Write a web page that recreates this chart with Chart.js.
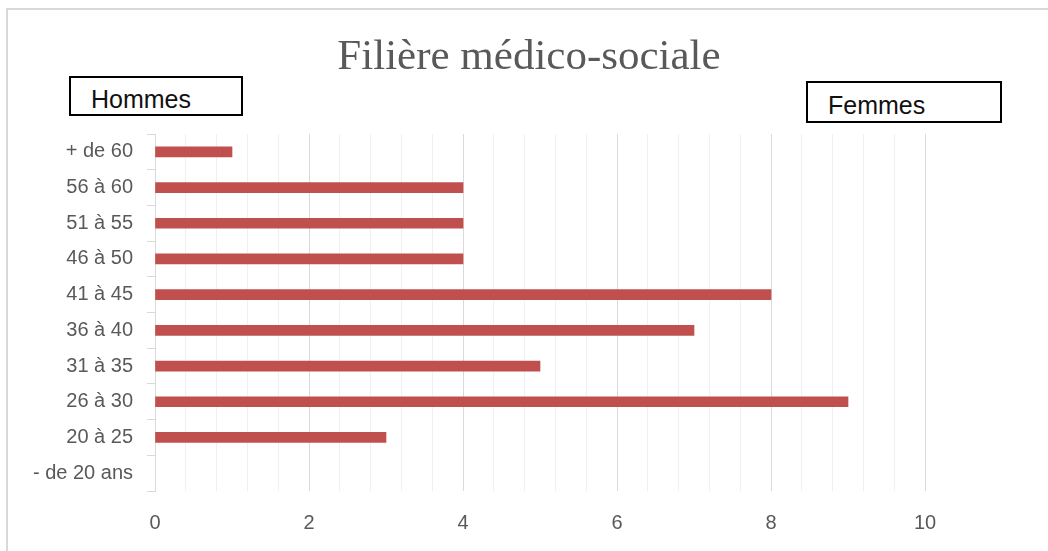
<!DOCTYPE html>
<html>
<head>
<meta charset="utf-8">
<script src="https://cdn.jsdelivr.net/npm/chart.js@4/dist/chart.umd.min.js"></script>
<style>
  html, body { margin: 0; padding: 0; background: #fff; }
  body { width: 1048px; height: 551px; position: relative; overflow: hidden; }
  #frame { position: absolute; left: 6px; top: 8px; width: 1100px; height: 600px;
           border-left: 2px solid #d9d9d9; border-top: 2px solid #d9d9d9; }
  #wrap { position: absolute; left: 0; top: 0; width: 1048px; height: 551px; }
  #title { position: absolute; left: 0; width: 1058px; top: 33px; text-align: center;
           font-family: "Liberation Serif", serif; font-size: 43px; line-height: 43px; color: #595959; }
  .box { position: absolute; box-sizing: border-box; border: 2px solid #000; background: #fff;
         font-family: "Liberation Sans", Arial, sans-serif; font-size: 25px; color: #111;
         display: flex; align-items: center; padding-left: 20px; padding-top: 6px; }
</style>
</head>
<body>
<div id="frame"></div>
<div id="wrap"><canvas id="c" width="1048" height="551"></canvas></div>
<div id="title">Filière médico-sociale</div>
<div class="box" style="left:69px; top:76px; width:174px; height:40px;">Hommes</div>
<div class="box" style="left:806px; top:81px; width:196px; height:42px;">Femmes</div>
<script>
const categories = ["- de 20 ans", "20 à 25", "26 à 30", "31 à 35", "36 à 40", "41 à 45", "46 à 50", "51 à 55", "56 à 60", "+ de 60"];
const values = [0, 3, 9, 5, 7, 8, 4, 4, 4, 1];
const xMajorTicks = [0, 2, 4, 6, 8, 10];
const xMin = 0, xMax = 10, xMinorStep = 0.4;

function isMajor(v) {
  return xMajorTicks.some(t => Math.abs(t - v) < 1e-6);
}

new Chart(document.getElementById('c'), {
  type: 'bar',
  data: {
    labels: categories,
    datasets: [{
      data: values,
      backgroundColor: ctx => (ctx.raw === 0 ? 'rgba(0,0,0,0)' : '#c0504d'),
      barThickness: 10
    }]
  },
  options: {
    indexAxis: 'y',
    responsive: false,
    animation: false,
    layout: { padding: { left: 10, right: 123, top: 134, bottom: 15 } },
    plugins: { legend: { display: false }, tooltip: { enabled: false }, title: { display: false } },
    scales: {
      x: {
        min: xMin, max: xMax,
        border: { display: false },
        grid: {
          drawTicks: false,
          color: ctx => isMajor(ctx.tick ? ctx.tick.value : 0) ? '#d9d9d9' : '#f0f0f0',
          lineWidth: 1
        },
        ticks: {
          stepSize: xMinorStep,
          autoSkip: false,
          maxRotation: 0,
          padding: 20,
          color: '#595959',
          font: { family: '"Liberation Sans", Arial, sans-serif', size: 20 },
          callback: v => isMajor(v) ? String(Math.round(v)) : ''
        },
        afterFit: s => { s.height = 45; }
      },
      y: {
        reverse: true,
        border: { display: true, color: '#d9d9d9', width: 1 },
        grid: { drawOnChartArea: false, drawTicks: true, tickLength: 8, color: '#d9d9d9', offset: true },
        ticks: {
          padding: 14,
          color: '#595959',
          font: { family: '"Liberation Sans", Arial, sans-serif', size: 20 }
        },
        afterFit: s => { s.width = 145; }
      }
    }
  }
});
</script>
</body>
</html>
